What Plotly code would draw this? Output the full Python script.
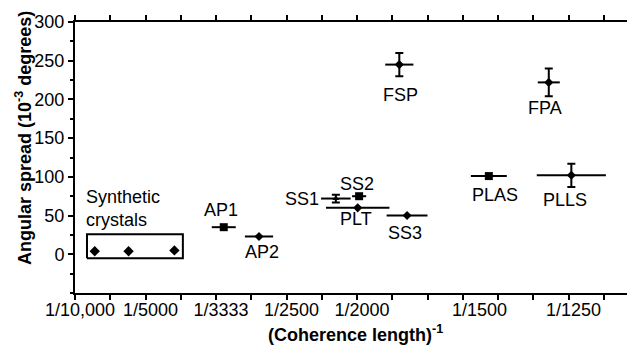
import plotly.graph_objects as go

# ---- data ----
sample_names = ["AP1", "AP2", "SS1", "SS2", "PLT", "SS3", "PLAS", "PLLS", "FSP", "FPA"]
inv_coherence = [3.11e-4, 3.61e-4, 4.70e-4, 5.03e-4, 5.01e-4, 5.71e-4, 6.87e-4, 8.04e-4, 5.60e-4, 7.72e-4]
inv_coherence_err = [0.17e-4, 0.20e-4, 0.21e-4, 0.10e-4, 0.45e-4, 0.29e-4, 0.255e-4, 0.49e-4, 0.20e-4, 0.156e-4]
angular_spread = [35, 23, 72, 75, 60, 50, 101, 102, 245, 222]
angular_spread_err = [0, 0, 5, 0, 0, 0, 0, 15, 15, 18]

synthetic_x = [1.28e-4, 1.76e-4, 2.41e-4]
synthetic_y = [4, 4, 5]
synthetic_box_x = [1.17e-4, 2.53e-4]
synthetic_box_y = [-5, 26]

tick_values = [1 / 10000, 1 / 5000, 1 / 3333, 1 / 2500, 1 / 2000, 1 / 1500, 1 / 1250]
tick_labels = ["1/10,000", "1/5000", "1/3333", "1/2500", "1/2000", "1/1500", "1/1250"]
y_tick_values = [0, 50, 100, 150, 200, 250, 300]

# ---- styles ----
symbols = ["square", "diamond", "triangle-up", "square", "diamond", "diamond",
           "square", "diamond", "diamond", "diamond"]
marker_sizes = [8, 7, 6, 8, 7, 7, 8, 7, 7, 7]
label_offsets = [(-3, -17), (3, 16), (-34, 0), (-2, -12), (-2, 11), (-2, 17),
                 (6, 19), (-6, 25), (1, 30), (-4, 26)]

FONT = "Liberation Sans"
fig = go.Figure()

for i, name in enumerate(sample_names):
    ey = angular_spread_err[i]
    fig.add_trace(go.Scatter(
        x=[inv_coherence[i]], y=[angular_spread[i]], mode="markers",
        marker=dict(symbol=symbols[i], size=marker_sizes[i], color="black"),
        error_x=dict(type="data", array=[inv_coherence_err[i]], width=0,
                     thickness=2, color="black"),
        error_y=dict(type="data", array=[ey], width=4, thickness=2,
                     color="black", visible=ey > 0),
        showlegend=False, name=name))

fig.add_trace(go.Scatter(
    x=synthetic_x, y=synthetic_y, mode="markers",
    marker=dict(symbol="diamond", size=8, color="black"), showlegend=False))

bx0, bx1 = synthetic_box_x
by0, by1 = synthetic_box_y
fig.add_trace(go.Scatter(
    x=[bx0, bx1, bx1, bx0, bx0], y=[by0, by0, by1, by1, by0], mode="lines",
    line=dict(color="black", width=2), showlegend=False, hoverinfo="skip"))

annotations = []
for i, name in enumerate(sample_names):
    dx, dy = label_offsets[i]
    annotations.append(dict(
        x=inv_coherence[i], y=angular_spread[i], xref="x", yref="y",
        text=name, showarrow=False, xshift=dx, yshift=-dy,
        font=dict(size=18, color="black", family=FONT),
        xanchor="center", yanchor="middle"))

annotations.append(dict(
    x=bx0, y=by1, xref="x", yref="y", text="Synthetic<br>crystals",
    showarrow=False, xanchor="left", yanchor="bottom", align="left",
    yshift=2, xshift=-3,
    font=dict(size=18, color="black", family=FONT)))

annotations.append(dict(
    x=-0.091, y=0.572, xref="paper", yref="paper", textangle=-90,
    text="<b>Angular spread (10<sup>-3</sup> degrees)</b>", showarrow=False,
    xanchor="center", yanchor="middle",
    font=dict(size=18, color="black", family=FONT)))

annotations.append(dict(
    x=0.5, y=-0.151, xref="paper", yref="paper",
    text="<b>(Coherence length)<sup>-1</sup></b>", showarrow=False,
    xanchor="center", yanchor="middle",
    font=dict(size=18, color="black", family=FONT)))

# page body has an 8px margin, so the figure is shrunk by 8px and margins shifted
fig.update_layout(
    width=627, height=340,
    margin=dict(l=67, r=0, t=14, b=55, autoexpand=False),
    paper_bgcolor="white", plot_bgcolor="white",
    font=dict(family=FONT, size=18, color="black"),
    annotations=annotations,
    xaxis=dict(
        range=[1e-4, 8.943e-4], tickmode="array", tickvals=tick_values,
        ticktext=tick_labels, ticks="outside", ticklen=0, ticklabelshift=5,
        ticklabelstandoff=-1,
        showline=True, linecolor="black", linewidth=2, mirror="ticks",
        showgrid=False, zeroline=False, automargin=False,
        tickfont=dict(size=18, family=FONT, color="black"),
        minor=dict(tickmode="linear", tick0=1e-4, dtick=0.5e-4, ticks="outside",
                   ticklen=5, tickwidth=1.5, tickcolor="black", showgrid=False),
    ),
    yaxis=dict(
        range=[-50, 300], tickmode="array", tickvals=y_tick_values,
        ticks="outside", ticklen=5, tickwidth=1.5, tickcolor="black",
        showline=True, linecolor="black", linewidth=2, automargin=False,
        showgrid=False, zeroline=False,
        tickfont=dict(size=18, family=FONT, color="black"),
        minor=dict(tickmode="linear", tick0=0, dtick=25, ticks="outside",
                   ticklen=3, tickwidth=1.5, tickcolor="black", showgrid=False),
    ),
)

fig.write_html("out.html")
